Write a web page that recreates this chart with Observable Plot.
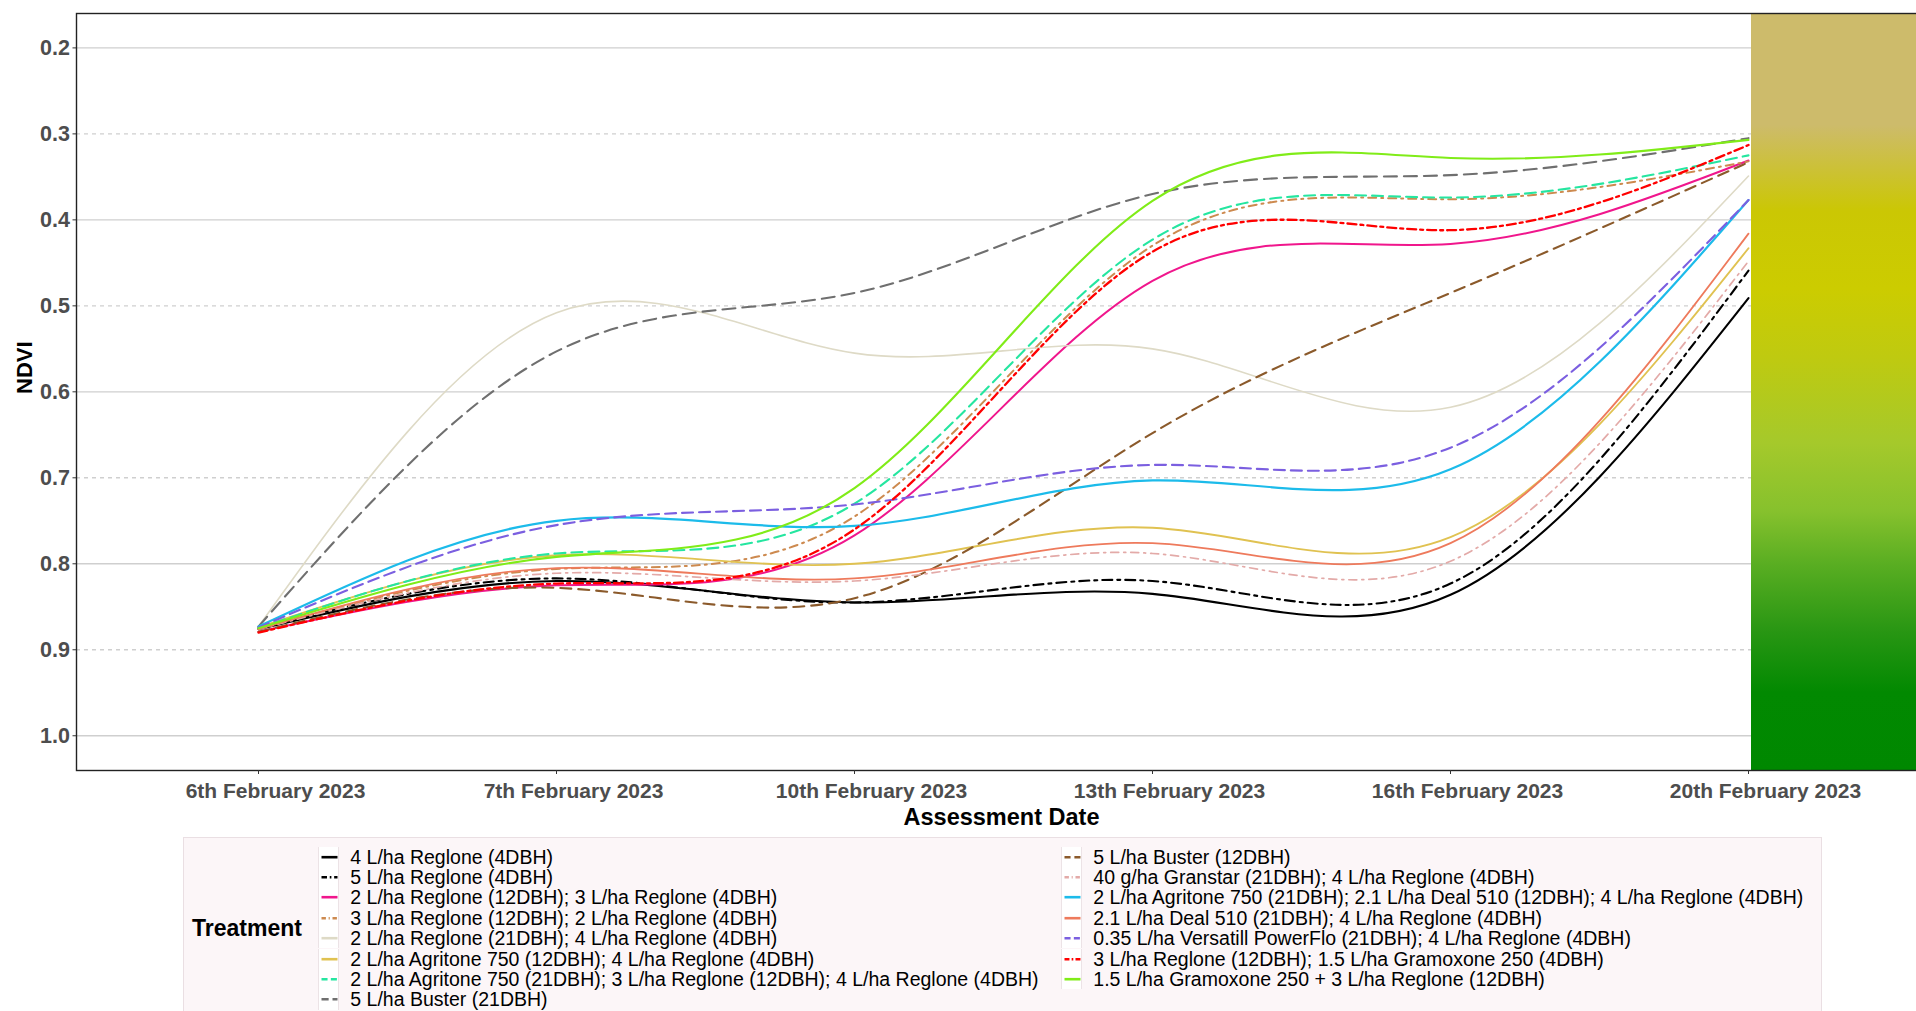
<!DOCTYPE html>
<html>
<head>
<meta charset="utf-8">
<script src="https://cdn.jsdelivr.net/npm/d3@7"></script>
<script src="https://cdn.jsdelivr.net/npm/@observablehq/plot@0.6"></script>
<style>
  html, body { margin: 0; padding: 0; background: #ffffff; overflow: hidden; width: 1916px; height: 1011px; }
  #chart { position: absolute; left: 0; top: 0; }
  #legend { position: absolute; left: 183px; top: 837px; width: 1639px; height: 210px;
            background: #fcf6f8; border: 1px solid #eadfe3; box-sizing: border-box;
            font-family: "Liberation Sans", Arial, sans-serif; color: #000; }
  #legend .title { position: absolute; left: 8px; top: 76px; font-size: 23px; font-weight: bold; line-height: 28px; }
  #legend .key { position: absolute; width: 21px; height: 20.4px; background: #ffffff;
                 border-left: 1px solid #ece3e6; border-right: 1px solid #ece3e6; box-sizing: border-box; }
  #legend .key svg { position: absolute; left: 0; top: 0; }
  #legend .lab { position: absolute; font-size: 19.5px; line-height: 20.4px; white-space: nowrap; }
</style>
</head>
<body>
<div id="chart"></div>
<div id="legend"></div>
<script>
// ---------- data ----------
const dates = [
  "6th February 2023", "7th February 2023", "10th February 2023",
  "13th February 2023", "16th February 2023", "20th February 2023"
];

const treatments = [
  "4 L/ha Reglone (4DBH)",
  "5 L/ha Reglone (4DBH)",
  "2 L/ha Reglone (12DBH); 3 L/ha Reglone (4DBH)",
  "3 L/ha Reglone (12DBH); 2 L/ha Reglone (4DBH)",
  "2 L/ha Reglone (21DBH); 4 L/ha Reglone (4DBH)",
  "2 L/ha Agritone 750 (12DBH); 4 L/ha Reglone (4DBH)",
  "2 L/ha Agritone 750 (21DBH); 3 L/ha Reglone (12DBH); 4 L/ha Reglone (4DBH)",
  "5 L/ha Buster (21DBH)",
  "5 L/ha Buster (12DBH)",
  "40 g/ha Granstar (21DBH); 4 L/ha Reglone (4DBH)",
  "2 L/ha Agritone 750 (21DBH); 2.1 L/ha Deal 510 (12DBH); 4 L/ha Reglone (4DBH)",
  "2.1 L/ha Deal 510 (21DBH); 4 L/ha Reglone (4DBH)",
  "0.35 L/ha Versatill PowerFlo (21DBH); 4 L/ha Reglone (4DBH)",
  "3 L/ha Reglone (12DBH); 1.5 L/ha Gramoxone 250 (4DBH)",
  "1.5 L/ha Gramoxone 250 + 3 L/ha Reglone (12DBH)"
];

// NDVI per treatment, one value per assessment date
const reglone4          = [0.876, 0.820, 0.845, 0.835, 0.836, 0.491];
const reglone5          = [0.875, 0.817, 0.845, 0.820, 0.823, 0.459];
const reglone2_3        = [0.879, 0.825, 0.767, 0.471, 0.428, 0.331];
const reglone3_2        = [0.876, 0.806, 0.745, 0.430, 0.376, 0.332];
const reglone2_4        = [0.873, 0.508, 0.555, 0.550, 0.618, 0.349];
const agritone12        = [0.874, 0.790, 0.800, 0.758, 0.769, 0.433];
const agritone21        = [0.875, 0.788, 0.730, 0.423, 0.374, 0.325];
const buster21          = [0.873, 0.553, 0.485, 0.370, 0.348, 0.305];
const buster12          = [0.879, 0.828, 0.840, 0.648, 0.485, 0.333];
const granstar          = [0.876, 0.811, 0.820, 0.788, 0.797, 0.448];
const agritoneDeal      = [0.873, 0.750, 0.756, 0.703, 0.690, 0.377];
const deal21            = [0.876, 0.805, 0.817, 0.776, 0.776, 0.416];
const versatill         = [0.874, 0.755, 0.731, 0.685, 0.665, 0.377];
const reglone3Gramoxone = [0.880, 0.823, 0.760, 0.437, 0.412, 0.313];
const gramoxoneReglone  = [0.875, 0.792, 0.712, 0.378, 0.328, 0.307];

const seriesValues = [
  reglone4, reglone5, reglone2_3, reglone3_2, reglone2_4, agritone12, agritone21,
  buster21, buster12, granstar, agritoneDeal, deal21, versatill, reglone3Gramoxone, gramoxoneReglone
];

const yTicks = [0.2, 0.3, 0.4, 0.5, 0.6, 0.7, 0.8, 0.9, 1.0];
const majorGrid = [0.2, 0.4, 0.6, 0.8, 1.0];
const minorGrid = [0.3, 0.5, 0.7, 0.9];
const yDomain = [0.16, 1.0404];

// NDVI colour band (value -> colour)
const bandValues = [0.16, 0.29, 0.39, 0.48, 0.56, 0.66, 0.74, 0.80, 0.88, 0.95, 1.0404];
const bandColors = ["#cdbb6b", "#cdbb6b", "#cbc704", "#cccc00", "#bfca10", "#a5c92b",
                    "#86c12d", "#5aae22", "#289613", "#028901", "#008800"];

// ---------- styles ----------
const lineColors = ["#000000", "#000000", "#f0168c", "#cd8a4f", "#dedac6", "#e0c251", "#25e6a0",
                    "#6f6f6f", "#8b5a2b", "#e3aaa8", "#1cbbea", "#ee7a5c", "#7b5fe0", "#ff0000", "#80ec18"];
const lineDashes = [null, "10,5,3,5", null, "8,5,2,5", null, null, "11,6",
                    "13,7", "11,7", "8,5,2,5", null, null, "11,6", "9,4,3,4", null];
const lineWidths = [2.1, 2.1, 2, 2, 1.6, 1.9, 2.1, 2.1, 2.1, 1.7, 2.2, 1.8, 2.1, 2.3, 2.1];

// ---------- chart ----------
const rows = treatments.flatMap((t, i) =>
  dates.map((d, j) => ({treatment: t, date: d, ndvi: seriesValues[i][j]})));

const font = "'Liberation Sans', Arial, sans-serif";
const lastDate = dates[dates.length - 1];

const lineMarks = treatments.map((t, i) =>
  Plot.line(rows.filter(r => r.treatment === t), {
    x: "date", y: "ndvi", curve: "natural",
    stroke: lineColors[i], strokeWidth: lineWidths[i],
    strokeDasharray: lineDashes[i] || undefined
  }));

const plot = Plot.plot({
  width: 1916,
  height: 830,
  marginLeft: 76,
  marginRight: 0,
  marginTop: 13,
  marginBottom: 60,
  style: {fontFamily: font, background: "transparent", overflow: "visible"},
  x: {type: "point", domain: dates, range: [256, 1749], padding: 0, label: null},
  y: {domain: yDomain, reverse: true, label: null},
  marks: [
    Plot.ruleY(majorGrid, {stroke: "#cfcfcf", strokeWidth: 1.4}),
    Plot.ruleY(minorGrid, {stroke: "#cfcfcf", strokeWidth: 1.4, strokeDasharray: "4,4"}),
    Plot.rect([lastDate], {
      x1: d => d, x2: d => d, insetLeft: 3, insetRight: -220,
      fill: "url(#ndviGrad)"
    }),
    Plot.ruleY(majorGrid, {x1: () => lastDate, stroke: "#000000", strokeOpacity: 0.15, strokeWidth: 1.4}),
    Plot.ruleY(minorGrid, {x1: () => lastDate, stroke: "#000000", strokeOpacity: 0.15, strokeWidth: 1.4, strokeDasharray: "4,4"}),
    ...lineMarks,
    Plot.frame({stroke: "#222222", strokeWidth: 1.4, insetRight: -4}),
    Plot.axisY(yTicks, {
      tickFormat: d => d.toFixed(1), fontSize: 21.5, fontWeight: "bold",
      fill: "#4d4d4d", stroke: "#333333", tickSize: 3.5, tickPadding: 3, label: null
    }),
    Plot.axisX({tickSize: 4, stroke: "#333333", tickFormat: () => "", label: null}),
    Plot.axisX({tickSize: 0, tickPadding: 13, dx: 17, fontSize: 21, fontWeight: "bold",
                fill: "#4d4d4d", label: null}),
    Plot.text(["NDVI"], {frameAnchor: "left", dx: -52, dy: 2, rotate: -90, fontSize: 22,
                         fontWeight: "bold", fill: "#000000", lineAnchor: "middle"}),
    Plot.text(["Assessment Date"], {frameAnchor: "bottom", dx: 5, dy: 47, fontSize: 23.5,
                                    fontWeight: "bold", fill: "#000000", lineAnchor: "middle"})
  ]
});

// gradient definition mapped through the y scale
(function addGradient() {
  const ns = "http://www.w3.org/2000/svg";
  const ys = plot.scale("y");
  const y0 = ys.apply(bandValues[0]);
  const y1 = ys.apply(bandValues[bandValues.length - 1]);
  const defs = document.createElementNS(ns, "defs");
  const grad = document.createElementNS(ns, "linearGradient");
  grad.setAttribute("id", "ndviGrad");
  grad.setAttribute("gradientUnits", "userSpaceOnUse");
  grad.setAttribute("x1", 0); grad.setAttribute("x2", 0);
  grad.setAttribute("y1", y0); grad.setAttribute("y2", y1);
  bandValues.forEach((v, i) => {
    const s = document.createElementNS(ns, "stop");
    s.setAttribute("offset", (ys.apply(v) - y0) / (y1 - y0));
    s.setAttribute("stop-color", bandColors[i]);
    grad.appendChild(s);
  });
  defs.appendChild(grad);
  plot.insertBefore(defs, plot.firstChild);
})();

document.getElementById("chart").appendChild(plot);

// ---------- legend ----------
(function buildLegend() {
  const legend = document.getElementById("legend");
  const title = document.createElement("div");
  title.className = "title";
  title.textContent = "Treatment";
  legend.appendChild(title);
  const perCol = 8;
  const rowH = 20.4;
  const colKeyX = [133.7, 877];
  const colTextX = [166.3, 909.3];
  const top0 = 8.5;
  treatments.forEach((t, i) => {
    const c = Math.floor(i / perCol), r = i % perCol;
    const key = document.createElement("div");
    key.className = "key";
    key.style.left = colKeyX[c] + "px";
    key.style.top = (top0 + r * rowH) + "px";
    const dash = lineDashes[i] ? lineDashes[i].split(",").map(v => +v * 0.55).join(",") : "";
    key.innerHTML = `<svg width="21" height="20.4"><line x1="2.5" x2="18.5" y1="10.2" y2="10.2" stroke="${lineColors[i]}" stroke-width="2.6" ${dash ? `stroke-dasharray="${dash}"` : ""}/></svg>`;
    legend.appendChild(key);
    const lab = document.createElement("div");
    lab.className = "lab";
    lab.style.left = colTextX[c] + "px";
    lab.style.top = (top0 + r * rowH) + "px";
    lab.textContent = t;
    legend.appendChild(lab);
  });
})();
</script>
</body>
</html>
